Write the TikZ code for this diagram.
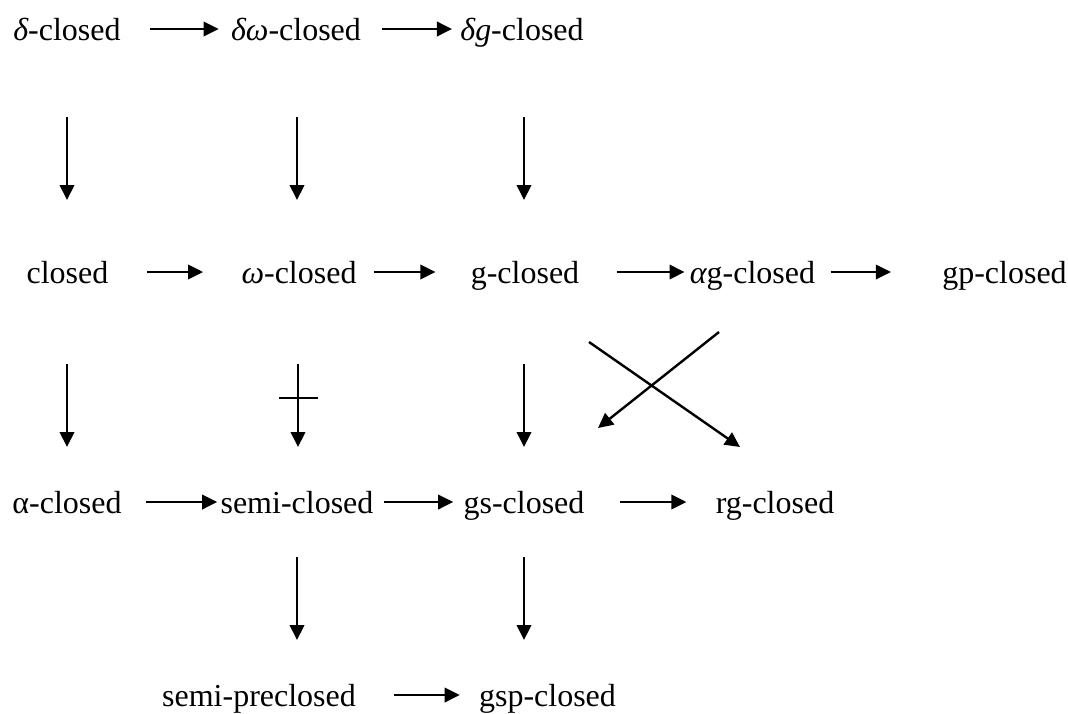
\documentclass[tikz,border=0pt]{standalone}
\usepackage{fontspec}
\setmainfont{Liberation Serif}
\usetikzlibrary{arrows.meta}
\begin{document}
\begin{tikzpicture}[x=0.5pt,y=-0.5pt,
  lbl/.style={inner sep=0pt, anchor=base, font=\fontsize{16pt}{19pt}\selectfont},
  arr/.style={line width=1.2pt, -{Triangle[length=7.5pt,width=7.2pt]}},
  barline/.style={line width=1.1pt}
]
\useasboundingbox (0,0) rectangle (1068,713);
% row 1
\node[lbl] (d1) at (67,40) {{\itshape δ}-closed};
\node[lbl] (d2) at (296,40) {{\itshape δω}-closed};
\node[lbl] (d3) at (522,40) {{\itshape δg}-closed};
% row 2
\node[lbl] (c1) at (67.5,283) {closed};
\node[lbl] (c2) at (299,283) {{\itshape ω}-closed};
\node[lbl] (c3) at (525,283) {g-closed};
\node[lbl] (c4) at (752.5,283) {{\itshape α}g-closed};
\node[lbl] (c5) at (1004.5,283) {gp-closed};
% row 3
\node[lbl] (a1) at (67,513) {α-closed};
\node[lbl] (a2) at (297,513) {semi-closed};
\node[lbl] (a3) at (524,513) {gs-closed};
\node[lbl] (a4) at (775,513) {rg-closed};
% row 4
\node[lbl] (s1) at (259,706) {semi-preclosed};
\node[lbl] (s2) at (547.5,706) {gsp-closed};

% horizontal arrows
\draw[arr] ([shift={(29,-11)}]d1.base east) -- ([shift={(-12,-11)}]d2.base west);
\draw[arr] ([shift={(21,-11)}]d2.base east) -- ([shift={(-8,-11)}]d3.base west);
\draw[arr] ([shift={(38,-11)}]c1.base east) -- ([shift={(-38,-11)}]c2.base west);
\draw[arr] ([shift={(17,-11)}]c2.base east) -- ([shift={(-35,-11)}]c3.base west);
\draw[arr] ([shift={(37,-11)}]c3.base east) -- ([shift={(-5,-11)}]c4.base west);
\draw[arr] ([shift={(15,-11)}]c4.base east) -- ([shift={(-51,-11)}]c5.base west);
\draw[arr] ([shift={(24,-11)}]a1.base east) -- ([shift={(-3,-11)}]a2.base west);
\draw[arr] ([shift={(10,-11)}]a2.base east) -- ([shift={(-10,-11)}]a3.base west);
\draw[arr] ([shift={(35,-11)}]a3.base east) -- ([shift={(-29,-11)}]a4.base west);
\draw[arr] ([shift={(38,-11)}]s1.base east) -- ([shift={(-19,-11)}]s2.base west);

% vertical arrows row1 -> row2
\draw[arr] ([shift={(0,77)}]d1.base) -- ([shift={(-0.5,-83)}]c1.base);
\draw[arr] ([shift={(1,77)}]d2.base) -- ([shift={(-2,-83)}]c2.base);
\draw[arr] ([shift={(2,77)}]d3.base) -- ([shift={(-1,-83)}]c3.base);
% row2 -> row3
\draw[arr] ([shift={(-0.5,81)}]c1.base) -- ([shift={(0,-66)}]a1.base);
\draw[arr] ([shift={(-1,81)}]c2.base) -- ([shift={(1,-66)}]a2.base)
  coordinate[pos=0.41] (nb);
\draw[barline] ([shift={(-19.5,0)}]nb) -- ([shift={(19.5,0)}]nb);
\draw[arr] ([shift={(-1,81)}]c3.base) -- ([shift={(0,-66)}]a3.base);
% crossing arrows
\draw[arr] ([shift={(64,59)}]c3.base) -- ([shift={(-35,-66)}]a4.base);
\draw[arr] ([shift={(-33.5,49)}]c4.base) -- ([shift={(74,-85)}]a3.base);
% row3 -> row4
\draw[arr] ([shift={(0,44)}]a2.base) -- ([shift={(38,-66)}]s1.base);
\draw[arr] ([shift={(0,44)}]a3.base) -- ([shift={(-23.5,-66)}]s2.base);
\end{tikzpicture}
\end{document}
